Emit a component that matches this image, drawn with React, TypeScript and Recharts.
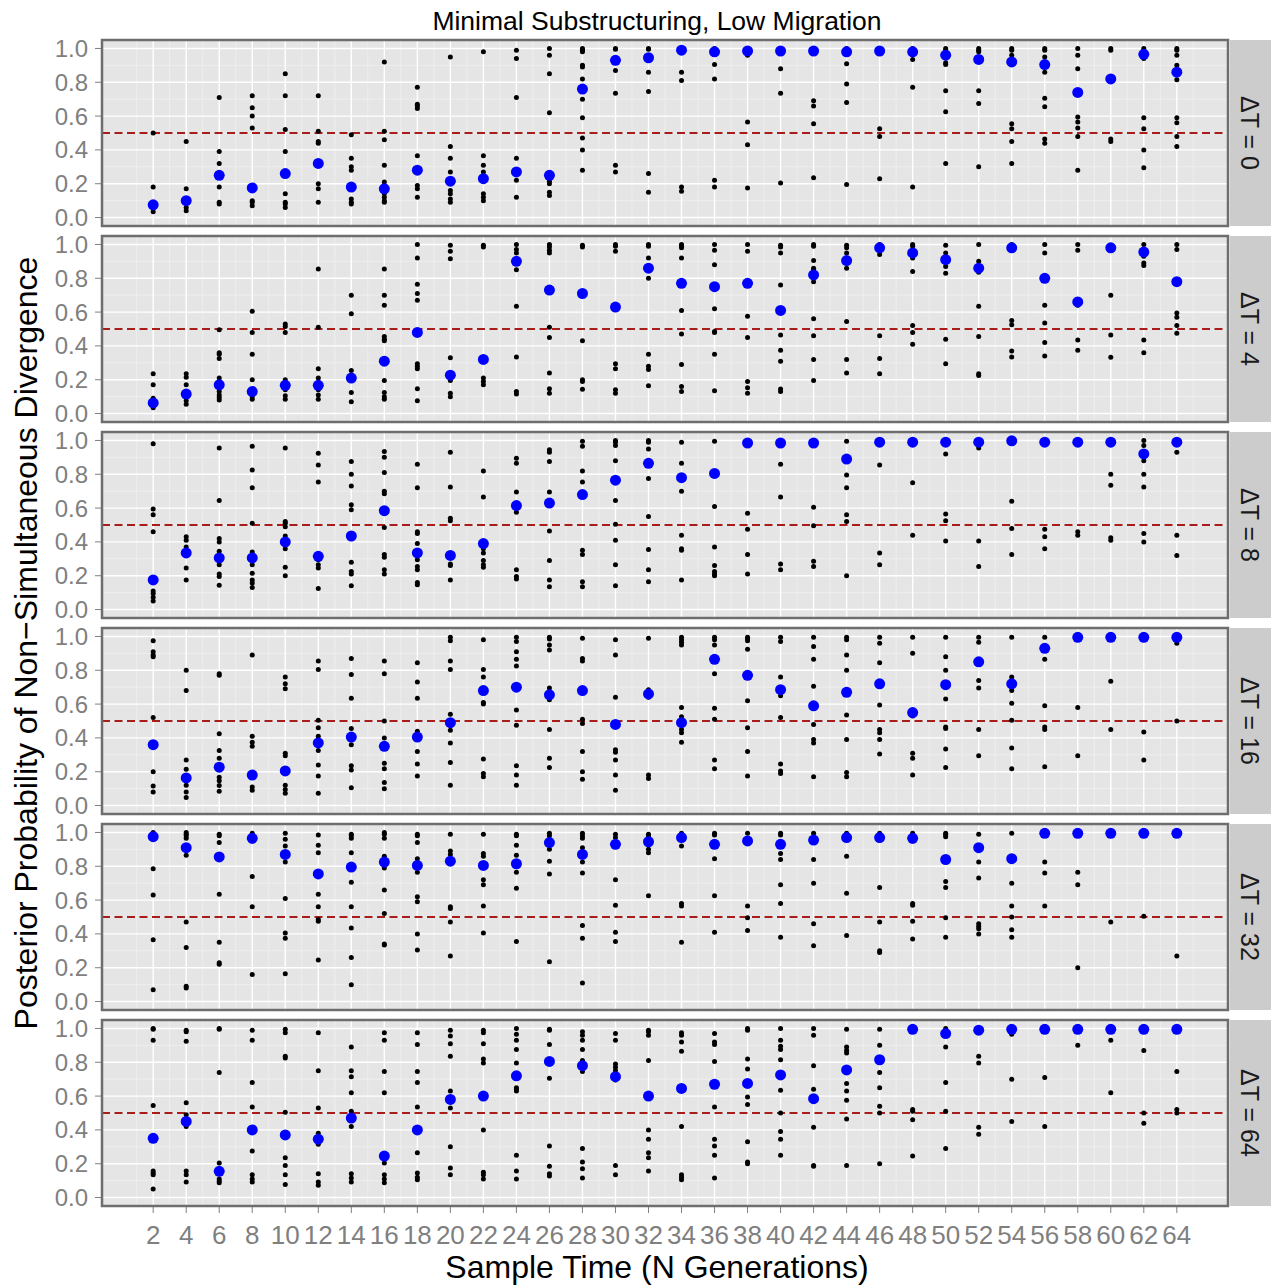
import React from 'react';
import { ScatterChart, Scatter, XAxis, YAxis, CartesianGrid, ReferenceLine } from 'recharts';

const xs = [2, 4, 6, 8, 10, 12, 14, 16, 18, 20, 22, 24, 26, 28, 30, 32, 34, 36, 38, 40, 42, 44, 46, 48, 50, 52, 54, 56, 58, 60, 62, 64];
const xMinor = [1, 3, 5, 7, 9, 11, 13, 15, 17, 19, 21, 23, 25, 27, 29, 31, 33, 35, 37, 39, 41, 43, 45, 47, 49, 51, 53, 55, 57, 59, 61, 63, 65];
const yTicks = [0, 0.2, 0.4, 0.6, 0.8, 1.0];
const yMinor = [0.1, 0.3, 0.5, 0.7, 0.9];
const deltaTs = [0, 4, 8, 16, 32, 64];

const title = 'Minimal Substructuring, Low Migration';
const xTitle = 'Sample Time (N Generations)';
const yTitle = 'Posterior Probability of Non\u2212Simultaneous Divergence';

const means0 = [0.075, 0.10, 0.25, 0.175, 0.26, 0.32, 0.18, 0.17, 0.28, 0.215, 0.23, 0.27, 0.25, 0.76, 0.93, 0.945, 0.99, 0.98, 0.985, 0.985, 0.985, 0.98, 0.985, 0.98, 0.96, 0.935, 0.92, 0.905, 0.74, 0.82, 0.965, 0.86];
const reps0 = [
  [0.50, 0.18, 0.035, 0.06, 0.07, 0.08],
  [0.45, 0.17, 0.06, 0.04, 0.09, 0.11],
  [0.71, 0.39, 0.32, 0.18, 0.09, 0.08, 0.25],
  [0.72, 0.65, 0.60, 0.53, 0.10, 0.09, 0.07, 0.17],
  [0.85, 0.72, 0.52, 0.39, 0.14, 0.09, 0.08, 0.06],
  [0.72, 0.51, 0.45, 0.44, 0.20, 0.17, 0.09, 0.32],
  [0.49, 0.35, 0.30, 0.28, 0.17, 0.11, 0.09, 0.08, 0.18],
  [0.92, 0.51, 0.46, 0.31, 0.21, 0.14, 0.12, 0.10, 0.09],
  [0.77, 0.67, 0.66, 0.645, 0.365, 0.19, 0.17, 0.12],
  [0.95, 0.42, 0.35, 0.27, 0.16, 0.14, 0.11, 0.09],
  [0.98, 0.365, 0.31, 0.27, 0.14, 0.12, 0.10, 0.22],
  [0.99, 0.94, 0.71, 0.35, 0.22, 0.12, 0.27],
  [1.0, 0.96, 0.85, 0.62, 0.215, 0.20, 0.15, 0.13],
  [1.0, 0.99, 0.98, 0.90, 0.89, 0.82, 0.70, 0.59, 0.47, 0.40, 0.28],
  [1.0, 0.995, 0.93, 0.87, 0.735, 0.31, 0.27],
  [1.0, 0.995, 0.86, 0.745, 0.26, 0.15],
  [1.0, 0.995, 0.99, 0.86, 0.81, 0.18, 0.155],
  [1.0, 0.99, 0.905, 0.82, 0.22, 0.18],
  [1.0, 0.99, 0.96, 0.565, 0.43, 0.175],
  [1.0, 0.99, 0.98, 0.88, 0.735, 0.205],
  [1.0, 0.99, 0.69, 0.66, 0.555, 0.235],
  [1.0, 0.99, 0.91, 0.79, 0.68, 0.195],
  [1.0, 0.99, 0.98, 0.525, 0.48, 0.23],
  [1.0, 0.99, 0.935, 0.77, 0.18],
  [1.0, 0.99, 0.915, 0.905, 0.75, 0.625, 0.32],
  [1.0, 0.99, 0.98, 0.75, 0.675, 0.30],
  [1.0, 0.99, 0.96, 0.555, 0.525, 0.45, 0.32],
  [1.0, 0.99, 0.95, 0.86, 0.705, 0.655, 0.465, 0.44],
  [1.0, 0.96, 0.88, 0.595, 0.565, 0.53, 0.48, 0.28],
  [1.0, 0.99, 0.465, 0.45],
  [1.0, 0.99, 0.94, 0.59, 0.525, 0.40, 0.295],
  [1.0, 0.99, 0.96, 0.90, 0.815, 0.59, 0.56, 0.48, 0.42],
];

const means4 = [0.063, 0.115, 0.17, 0.13, 0.167, 0.167, 0.21, 0.31, 0.48, 0.227, 0.32, 0.90, 0.73, 0.71, 0.63, 0.86, 0.77, 0.75, 0.77, 0.61, 0.82, 0.905, 0.98, 0.95, 0.91, 0.86, 0.98, 0.80, 0.66, 0.98, 0.955, 0.78];
const reps4 = [
  [0.235, 0.17, 0.09, 0.035, 0.05, 0.07],
  [0.235, 0.215, 0.17, 0.075, 0.055, 0.12],
  [0.495, 0.36, 0.35, 0.325, 0.21, 0.13, 0.11, 0.095, 0.08],
  [0.605, 0.48, 0.35, 0.20, 0.10, 0.085, 0.13],
  [0.53, 0.515, 0.48, 0.20, 0.14, 0.105, 0.085],
  [0.855, 0.51, 0.265, 0.21, 0.14, 0.11, 0.085],
  [0.70, 0.59, 0.255, 0.125, 0.07, 0.21],
  [0.855, 0.70, 0.64, 0.455, 0.44, 0.43, 0.195, 0.125, 0.10, 0.085],
  [1.0, 0.92, 0.765, 0.71, 0.67, 0.295, 0.28, 0.265, 0.147, 0.076],
  [0.995, 0.96, 0.915, 0.33, 0.195, 0.12, 0.10],
  [0.995, 0.985, 0.21, 0.19, 0.17],
  [1.0, 0.97, 0.95, 0.85, 0.635, 0.335, 0.13, 0.115],
  [1.0, 0.985, 0.965, 0.95, 0.51, 0.45, 0.24, 0.147, 0.12],
  [0.995, 0.985, 0.43, 0.20, 0.19, 0.143],
  [1.0, 0.99, 0.96, 0.295, 0.265, 0.14, 0.12],
  [1.0, 0.99, 0.92, 0.80, 0.35, 0.28, 0.26, 0.165],
  [1.0, 0.99, 0.98, 0.92, 0.61, 0.47, 0.29, 0.16, 0.13],
  [1.0, 0.965, 0.88, 0.62, 0.485, 0.48, 0.35, 0.135],
  [1.0, 0.96, 0.575, 0.45, 0.19, 0.153, 0.12],
  [0.995, 0.985, 0.95, 0.76, 0.465, 0.375, 0.31, 0.145, 0.13],
  [1.0, 0.99, 0.905, 0.86, 0.85, 0.78, 0.56, 0.46, 0.32, 0.195],
  [0.995, 0.98, 0.95, 0.86, 0.545, 0.32, 0.24],
  [1.0, 0.94, 0.46, 0.325, 0.235],
  [1.0, 0.99, 0.92, 0.84, 0.52, 0.48, 0.41],
  [0.995, 0.95, 0.87, 0.83, 0.44, 0.295],
  [1.0, 0.90, 0.835, 0.635, 0.455, 0.235, 0.225],
  [1.0, 0.99, 0.55, 0.525, 0.37, 0.335],
  [1.0, 0.95, 0.64, 0.535, 0.42, 0.34],
  [1.0, 0.965, 0.64, 0.435, 0.375],
  [0.995, 0.70, 0.465, 0.333],
  [1.0, 0.93, 0.89, 0.875, 0.435, 0.36],
  [1.0, 0.97, 0.595, 0.57, 0.52, 0.475],
];

const means8 = [0.175, 0.335, 0.305, 0.305, 0.40, 0.315, 0.435, 0.585, 0.335, 0.32, 0.39, 0.615, 0.63, 0.68, 0.765, 0.865, 0.78, 0.805, 0.985, 0.985, 0.985, 0.89, 0.99, 0.99, 0.99, 0.99, 0.998, 0.99, 0.99, 0.99, 0.92, 0.99];
const reps8 = [
  [0.98, 0.595, 0.56, 0.46, 0.11, 0.095, 0.073, 0.05],
  [0.43, 0.41, 0.37, 0.245, 0.175, 0.34],
  [0.955, 0.645, 0.42, 0.40, 0.345, 0.265, 0.21, 0.195, 0.143],
  [0.965, 0.825, 0.72, 0.51, 0.34, 0.265, 0.215, 0.175, 0.157, 0.13],
  [0.955, 0.52, 0.51, 0.49, 0.435, 0.36, 0.25, 0.20],
  [0.925, 0.855, 0.755, 0.295, 0.265, 0.245, 0.125],
  [0.875, 0.80, 0.73, 0.62, 0.59, 0.28, 0.225, 0.21, 0.14],
  [0.935, 0.90, 0.81, 0.70, 0.685, 0.485, 0.325, 0.31, 0.235, 0.21],
  [0.86, 0.72, 0.46, 0.45, 0.39, 0.295, 0.255, 0.235, 0.16, 0.147],
  [0.93, 0.725, 0.54, 0.525, 0.27, 0.26, 0.175],
  [0.82, 0.665, 0.36, 0.335, 0.29, 0.265, 0.25],
  [0.895, 0.865, 0.695, 0.575, 0.235, 0.195, 0.18],
  [0.945, 0.93, 0.875, 0.695, 0.465, 0.29, 0.175, 0.135],
  [0.995, 0.965, 0.82, 0.755, 0.35, 0.325, 0.165, 0.135],
  [1.0, 0.99, 0.97, 0.88, 0.645, 0.505, 0.41, 0.265, 0.14],
  [1.0, 0.99, 0.95, 0.775, 0.55, 0.355, 0.235, 0.165],
  [0.99, 0.865, 0.70, 0.44, 0.36, 0.35, 0.175],
  [0.995, 0.61, 0.37, 0.26, 0.225, 0.21, 0.20],
  [1.0, 0.99, 0.57, 0.475, 0.325, 0.21],
  [1.0, 0.86, 0.665, 0.27, 0.235],
  [1.0, 0.605, 0.495, 0.285, 0.255],
  [0.995, 0.795, 0.72, 0.56, 0.52, 0.20],
  [1.0, 0.855, 0.335, 0.265],
  [1.0, 0.75, 0.44],
  [1.0, 0.92, 0.565, 0.525, 0.405],
  [1.0, 0.955, 0.405, 0.255],
  [1.0, 0.64, 0.48, 0.325],
  [1.0, 0.475, 0.43, 0.36],
  [1.0, 0.46, 0.44],
  [1.0, 0.80, 0.735, 0.425, 0.41],
  [1.0, 0.97, 0.88, 0.80, 0.725, 0.45, 0.40],
  [1.0, 0.93, 0.44, 0.32],
];

const means16 = [0.36, 0.163, 0.227, 0.18, 0.205, 0.37, 0.405, 0.35, 0.405, 0.49, 0.68, 0.70, 0.655, 0.68, 0.48, 0.66, 0.49, 0.865, 0.77, 0.685, 0.59, 0.67, 0.72, 0.55, 0.715, 0.85, 0.72, 0.93, 0.995, 0.995, 0.995, 0.995];
const reps16 = [
  [0.975, 0.91, 0.89, 0.88, 0.52, 0.20, 0.115, 0.08],
  [0.80, 0.68, 0.27, 0.215, 0.12, 0.08, 0.047, 0.15],
  [0.78, 0.77, 0.425, 0.325, 0.28, 0.167, 0.147, 0.118, 0.085],
  [0.89, 0.41, 0.375, 0.35, 0.11, 0.09, 0.17],
  [0.76, 0.72, 0.69, 0.31, 0.295, 0.12, 0.095, 0.073],
  [0.855, 0.805, 0.505, 0.46, 0.41, 0.325, 0.24, 0.175, 0.073],
  [0.87, 0.775, 0.635, 0.455, 0.36, 0.235, 0.21, 0.105],
  [0.855, 0.78, 0.50, 0.40, 0.25, 0.218, 0.137, 0.10, 0.34],
  [0.845, 0.73, 0.635, 0.44, 0.32, 0.245, 0.175],
  [0.995, 0.975, 0.855, 0.805, 0.54, 0.445, 0.37, 0.255, 0.12],
  [0.98, 0.805, 0.76, 0.61, 0.60, 0.275, 0.19, 0.17],
  [0.995, 0.97, 0.91, 0.865, 0.825, 0.565, 0.475, 0.235, 0.18, 0.12],
  [0.995, 0.985, 0.95, 0.92, 0.695, 0.625, 0.45, 0.28, 0.225],
  [0.99, 0.87, 0.855, 0.51, 0.485, 0.32, 0.20, 0.155],
  [0.98, 0.89, 0.64, 0.33, 0.315, 0.27, 0.18, 0.09],
  [0.99, 0.685, 0.64, 0.18, 0.16],
  [0.995, 0.98, 0.965, 0.95, 0.58, 0.525, 0.45, 0.43, 0.375],
  [0.995, 0.98, 0.95, 0.78, 0.575, 0.51, 0.27, 0.218],
  [0.995, 0.985, 0.975, 0.925, 0.62, 0.46, 0.32, 0.175],
  [0.995, 0.97, 0.76, 0.65, 0.52, 0.245, 0.205, 0.19],
  [0.995, 0.94, 0.865, 0.705, 0.48, 0.39, 0.37, 0.17],
  [0.995, 0.98, 0.89, 0.80, 0.535, 0.39, 0.195, 0.17],
  [0.995, 0.96, 0.845, 0.595, 0.45, 0.43, 0.39, 0.305],
  [0.995, 0.90, 0.53, 0.31, 0.28, 0.18],
  [0.995, 0.88, 0.80, 0.63, 0.465, 0.455, 0.335, 0.225],
  [0.995, 0.965, 0.74, 0.695, 0.45, 0.295],
  [0.995, 0.76, 0.68, 0.605, 0.505, 0.34, 0.218],
  [0.995, 0.865, 0.59, 0.465, 0.45, 0.23],
  [0.58, 0.295],
  [0.735, 0.45],
  [0.435, 0.27],
  [0.96, 0.50],
];

const means32 = [0.975, 0.91, 0.855, 0.965, 0.87, 0.755, 0.795, 0.825, 0.805, 0.83, 0.805, 0.815, 0.94, 0.87, 0.93, 0.945, 0.97, 0.93, 0.95, 0.93, 0.955, 0.97, 0.97, 0.965, 0.84, 0.91, 0.845, 0.995, 0.995, 0.995, 0.995, 0.995];
const reps32 = [
  [1.0, 0.785, 0.63, 0.365, 0.07],
  [1.0, 0.99, 0.98, 0.965, 0.865, 0.47, 0.32, 0.09, 0.08],
  [0.99, 0.98, 0.94, 0.635, 0.35, 0.23, 0.22],
  [0.995, 0.95, 0.74, 0.56, 0.16],
  [0.995, 0.96, 0.92, 0.825, 0.61, 0.405, 0.375, 0.165],
  [0.985, 0.925, 0.88, 0.635, 0.56, 0.485, 0.475, 0.245],
  [0.99, 0.98, 0.965, 0.88, 0.705, 0.56, 0.435, 0.26, 0.10],
  [1.0, 0.99, 0.965, 0.86, 0.79, 0.66, 0.52, 0.34, 0.335],
  [0.99, 0.98, 0.94, 0.845, 0.765, 0.62, 0.59, 0.40, 0.305],
  [0.99, 0.89, 0.87, 0.56, 0.55, 0.47, 0.27],
  [0.99, 0.875, 0.86, 0.72, 0.69, 0.565, 0.405],
  [0.99, 0.98, 0.925, 0.865, 0.765, 0.67, 0.355],
  [0.995, 0.98, 0.90, 0.83, 0.755, 0.235],
  [0.995, 0.98, 0.965, 0.91, 0.825, 0.76, 0.45, 0.375, 0.11],
  [0.99, 0.97, 0.72, 0.57, 0.41, 0.355],
  [0.99, 0.98, 0.90, 0.88, 0.625],
  [0.995, 0.92, 0.58, 0.565, 0.35],
  [0.995, 0.985, 0.845, 0.625, 0.41],
  [0.995, 0.565, 0.495, 0.42],
  [0.995, 0.985, 0.875, 0.84, 0.69, 0.58, 0.38],
  [0.995, 0.84, 0.70, 0.46, 0.33],
  [0.995, 0.86, 0.64, 0.39],
  [0.995, 0.675, 0.47, 0.30, 0.29],
  [0.995, 0.95, 0.58, 0.57, 0.475, 0.37],
  [0.995, 0.985, 0.975, 0.71, 0.675, 0.495, 0.38],
  [0.99, 0.825, 0.73, 0.46, 0.445, 0.43, 0.40],
  [0.995, 0.70, 0.565, 0.50, 0.425, 0.38],
  [0.825, 0.76, 0.565],
  [0.765, 0.69, 0.20],
  [0.47],
  [0.505],
  [0.27],
];

const means64 = [0.35, 0.45, 0.155, 0.40, 0.37, 0.345, 0.47, 0.245, 0.40, 0.58, 0.60, 0.72, 0.805, 0.78, 0.715, 0.60, 0.645, 0.67, 0.675, 0.725, 0.585, 0.755, 0.815, 0.995, 0.97, 0.99, 0.995, 0.995, 0.995, 0.995, 0.995, 0.995];
const reps64 = [
  [1.0, 0.995, 0.93, 0.545, 0.157, 0.145, 0.135, 0.05],
  [0.99, 0.98, 0.925, 0.56, 0.49, 0.42, 0.157, 0.135, 0.092],
  [1.0, 0.995, 0.74, 0.205, 0.11, 0.098, 0.087],
  [0.99, 0.93, 0.68, 0.535, 0.275, 0.135, 0.11, 0.092],
  [0.995, 0.975, 0.835, 0.825, 0.505, 0.235, 0.19, 0.135, 0.077],
  [0.975, 0.75, 0.53, 0.38, 0.315, 0.14, 0.092, 0.073],
  [0.89, 0.75, 0.715, 0.62, 0.51, 0.42, 0.14, 0.115, 0.092],
  [0.975, 0.93, 0.745, 0.62, 0.205, 0.135, 0.11, 0.087],
  [0.975, 0.905, 0.745, 0.68, 0.535, 0.265, 0.145, 0.12, 0.105],
  [0.99, 0.955, 0.91, 0.835, 0.63, 0.53, 0.30, 0.175, 0.135],
  [0.99, 0.975, 0.91, 0.82, 0.795, 0.40, 0.15, 0.135, 0.11],
  [1.0, 0.965, 0.93, 0.875, 0.795, 0.65, 0.64, 0.63, 0.25, 0.157, 0.11],
  [0.995, 0.99, 0.905, 0.705, 0.305, 0.185, 0.14, 0.128],
  [0.98, 0.96, 0.93, 0.875, 0.81, 0.79, 0.745, 0.29, 0.21, 0.17, 0.115],
  [0.97, 0.93, 0.79, 0.77, 0.75, 0.695, 0.19, 0.135],
  [0.99, 0.98, 0.96, 0.81, 0.40, 0.345, 0.265, 0.235, 0.157],
  [0.975, 0.96, 0.92, 0.865, 0.42, 0.135, 0.12, 0.105],
  [0.97, 0.92, 0.905, 0.805, 0.535, 0.345, 0.305, 0.25, 0.115],
  [1.0, 0.99, 0.82, 0.76, 0.595, 0.55, 0.33, 0.21, 0.20],
  [1.0, 0.93, 0.895, 0.875, 0.815, 0.635, 0.50, 0.39, 0.345, 0.25],
  [1.0, 0.96, 0.78, 0.64, 0.415, 0.19, 0.185],
  [0.995, 0.89, 0.87, 0.855, 0.675, 0.63, 0.575, 0.465, 0.19],
  [0.995, 0.90, 0.74, 0.65, 0.54, 0.50, 0.20],
  [0.52, 0.51, 0.46, 0.245],
  [1.0, 0.89, 0.68, 0.51, 0.29],
  [0.835, 0.795, 0.415, 0.375],
  [0.965, 0.70, 0.45],
  [0.71, 0.42],
  [0.90],
  [0.93, 0.62],
  [0.87, 0.50, 0.44],
  [0.745, 0.52, 0.50],
];

const panelMeans = [means0, means4, means8, means16, means32, means64];
const panelReps = [reps0, reps4, reps8, reps16, reps32, reps64];

const FONT = '"Liberation Sans", Arial, Helvetica, sans-serif';
const W = 1274;
const H = 1286;
const PLOT_LEFT = 102;
const PLOT_RIGHT = 1228;
const PANEL_TOP = 40;
const PANEL_H = 186;
const PANEL_STEP = 196;
const PAD = 14;
const XAXIS_H = 50;
const GREY_TXT = '#7f7f7f';
const XTICK_FS = 26;
const YTICK_FS = 24;

const BlackDot = (p: any) => <circle cx={p.cx} cy={p.cy} r={2.5} fill="#000000" />;
const BlueDot = (p: any) => <circle cx={p.cx} cy={p.cy} r={5.5} fill="#0000ff" />;

function Panel({ idx }: { idx: number }) {
  const last = idx === deltaTs.length - 1;
  const means = panelMeans[idx];
  const reps = panelReps[idx];
  const black = reps.flatMap((vals, i) => vals.map((v) => ({ x: xs[i], y: v })));
  const blue = means.map((v, i) => ({ x: xs[i], y: v }));
  return (
    <div style={{ position: 'absolute', left: 0, top: PANEL_TOP + idx * PANEL_STEP - PAD }}>
      <ScatterChart
        width={W}
        height={PANEL_H + 2 * PAD + (last ? XAXIS_H : 0)}
        margin={{ top: PAD, right: W - PLOT_RIGHT, bottom: PAD, left: 0 }}
      >
        <CartesianGrid
          fill="#e5e5e5"
          fillOpacity={1}
          stroke="#f2f2f2"
          strokeWidth={0.7}
          horizontalValues={yMinor}
          verticalValues={xMinor}
        />
        <CartesianGrid stroke="#ffffff" strokeWidth={1.4} horizontalValues={yTicks} verticalValues={xs} />
        <XAxis
          type="number"
          dataKey="x"
          domain={[-1.1, 67.1]}
          ticks={xs}
          interval={0}
          allowDataOverflow
          hide={!last}
          height={XAXIS_H}
          axisLine={false}
          tickLine={{ stroke: GREY_TXT }}
          tickSize={7}
          tickMargin={13}
          tick={{ fill: GREY_TXT, fontSize: XTICK_FS, fontFamily: FONT }}
        />
        <YAxis
          type="number"
          dataKey="y"
          domain={[-0.05, 1.05]}
          ticks={yTicks}
          interval={0}
          allowDataOverflow
          width={PLOT_LEFT}
          axisLine={false}
          tickLine={{ stroke: GREY_TXT }}
          tickSize={7}
          tickMargin={7}
          tick={{ fill: GREY_TXT, fontSize: YTICK_FS, fontFamily: FONT }}
          tickFormatter={(v: number) => v.toFixed(1)}
        />
        <ReferenceLine y={0.5} stroke="#a81c1c" strokeWidth={1.8} strokeDasharray="8 4.5" />
        <Scatter data={black} isAnimationActive={false} shape={BlackDot} />
        <Scatter data={blue} isAnimationActive={false} shape={BlueDot} />
      </ScatterChart>
    </div>
  );
}

export default function App() {
  return (
    <div style={{ position: 'absolute', left: 0, top: 0, width: W, height: H, background: '#ffffff', fontFamily: FONT }}>
      {deltaTs.map((_, i) => (
        <Panel key={i} idx={i} />
      ))}
      <svg width={W} height={H} style={{ position: 'absolute', left: 0, top: 0, pointerEvents: 'none' }}>
        <text x={657} y={21} textAnchor="middle" dominantBaseline="central" fontSize={26.5} fill="#000000" fontFamily={FONT}>
          {title}
        </text>
        <text x={657} y={1267} textAnchor="middle" dominantBaseline="central" fontSize={32} fill="#000000" fontFamily={FONT}>
          {xTitle}
        </text>
        <text
          transform={`translate(26, 643) rotate(-90)`}
          textAnchor="middle"
          dominantBaseline="central"
          fontSize={32}
          fill="#000000"
          fontFamily={FONT}
        >
          {yTitle}
        </text>
        {deltaTs.map((dt, i) => {
          const top = PANEL_TOP + i * PANEL_STEP;
          return (
            <g key={dt}>
              <rect x={PLOT_LEFT} y={top} width={PLOT_RIGHT - PLOT_LEFT} height={PANEL_H} fill="none" stroke="#6e6e6e" strokeWidth={2.5} />
              <rect x={1230} y={top} width={41} height={PANEL_H} fill="#cccccc" />
              <text
                transform={`translate(1250, ${top + PANEL_H / 2}) rotate(90)`}
                textAnchor="middle"
                dominantBaseline="central"
                fontSize={25}
                fill="#1a1a1a"
                fontFamily={FONT}
              >
                {`\u0394T = ${dt}`}
              </text>
            </g>
          );
        })}
      </svg>
    </div>
  );
}
